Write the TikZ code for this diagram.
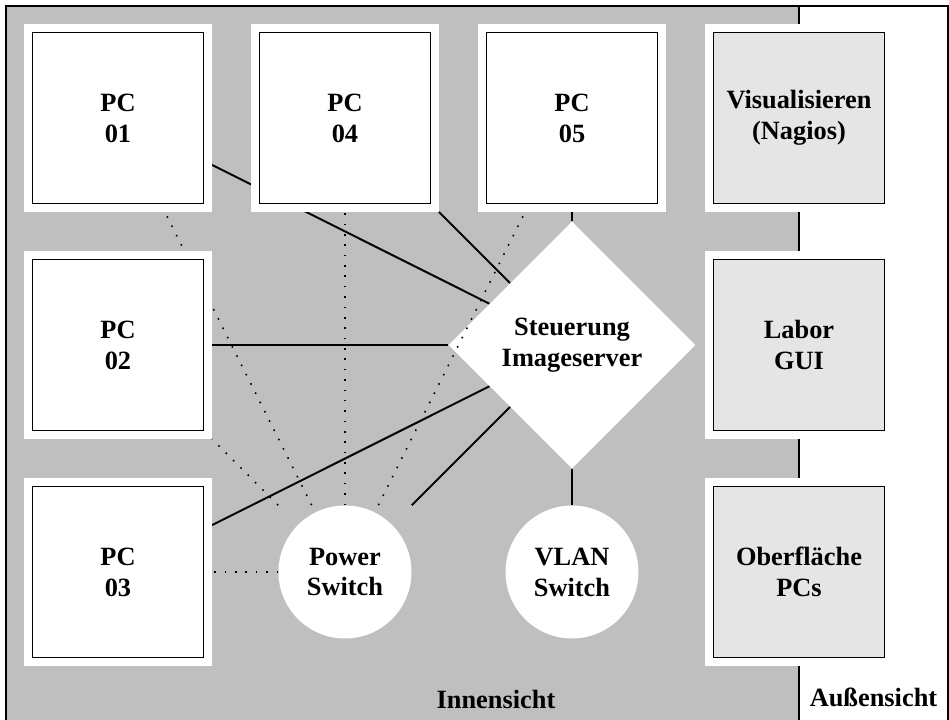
\documentclass[tikz,border=0pt]{standalone}
\usepackage{fontspec}
\setmainfont{Liberation Serif}
\usetikzlibrary{math,shapes.geometric,backgrounds}

\tikzset{
  lbl/.style={font=\bfseries\fontsize{15}{17.6}\selectfont, align=center},
  pcbox/.style={lbl, rectangle, draw=black, line width=1.1pt, fill=white,
    minimum size=3.42cm, inner sep=0pt, outer sep=0.17cm,
    preaction={draw=white, line width=0.34cm}},
  guibox/.style={pcbox, fill=black!10},
  switchnode/.style={lbl, rectangle, minimum size=2.66cm, inner sep=0pt,
    path picture={\fill[white] (path picture bounding box.center) circle (1.33cm);}},
  ctrlnode/.style={lbl, diamond, fill=white, minimum size=4.94cm, inner sep=0pt, aspect=1},
  link/.style={line width=1.1pt},
  powerlink/.style={line width=0.9pt, dash pattern=on 0.9pt off 5pt}
}

\begin{document}
\begin{tikzpicture}
  \tikzmath{\gs = 4.54; \xa = 2.36; \ya = 12.04; \W = 18.98; \H = 14.4;}
  \useasboundingbox (0,0) rectangle (\W,\H);

  \node[pcbox] (pc01) at (\xa, \ya) {PC\\01};
  \node[pcbox] (pc02) at (\xa, \ya-\gs) {PC\\02};
  \node[pcbox] (pc03) at (\xa, \ya-2*\gs) {PC\\03};
  \node[pcbox] (pc04) at (\xa+\gs, \ya) {PC\\04};
  \node[pcbox] (pc05) at (\xa+2*\gs, \ya) {PC\\05};

  \node[ctrlnode] (ctrl) at (\xa+2*\gs, \ya-\gs) {Steuerung\\Imageserver};
  \node[switchnode] (psw) at (\xa+\gs, \ya-2*\gs) {Power\\Switch};
  \node[switchnode] (vlan) at (\xa+2*\gs, \ya-2*\gs) {VLAN\\Switch};

  \node[guibox] (nagios) at (\xa+3*\gs, \ya) {Visualisieren\\(Nagios)};
  \node[guibox] (labgui) at (\xa+3*\gs, \ya-\gs) {Labor\\GUI};
  \node[guibox] (pcgui) at (\xa+3*\gs, \ya-2*\gs) {Oberfl\"ache\\PCs};

  \node[lbl, anchor=base] (inner) at (9.92, 0.22) {Innensicht};
  \node[lbl, anchor=base] (outer) at (17.47, 0.26) {Au\ss ensicht};

  \begin{pgfonlayer}{background}
    % areas
    \fill[black!25] (0.12,-0.1) rectangle (\xa+3*\gs, 14.28);
    \draw[link] (0.12,-0.1) -- (0.12,14.28) -- (18.96,14.28) -- (18.96,-0.1);
    \draw[link] (\xa+3*\gs, -0.1) -- (\xa+3*\gs, 14.28);
    % control network
    \foreach \n in {pc01,pc02,pc03,pc04,pc05,psw,vlan}
      \draw[link] (ctrl) -- (\n);
    % power lines
    \foreach \n in {pc01,pc02,pc03,pc04}
      \draw[powerlink] (psw) -- (\n);
  \end{pgfonlayer}
  \draw[powerlink] (psw) -- (pc05);
\end{tikzpicture}
\end{document}
